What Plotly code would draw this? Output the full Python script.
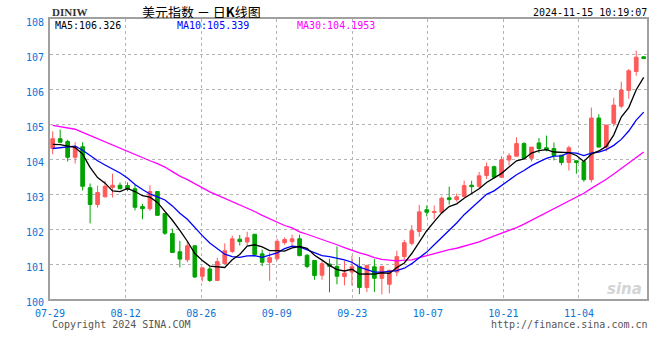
import plotly.graph_objects as go

# ---------------- data ----------------
opens = [104.30, 104.58, 104.50, 104.05, 104.35, 103.18, 102.70, 102.92, 103.19, 103.25,
         103.24, 103.15, 102.64, 102.58, 103.07, 102.44, 101.87, 101.35, 101.12, 101.52,
         100.65, 100.86, 100.53, 101.01, 101.36, 101.71, 101.63, 101.85, 101.29, 101.05,
         101.15, 101.61, 101.64, 101.72, 101.25, 101.10, 100.68, 101.00, 100.93, 100.64,
         100.77, 100.93, 100.33, 100.92, 100.59, 100.42, 100.77, 101.21, 101.59, 101.93,
         102.55, 102.47, 102.48, 102.89, 102.84, 102.93, 103.25, 103.22, 103.53, 103.78,
         103.48, 103.97, 104.08, 104.44, 104.02, 104.46, 104.32, 104.30, 104.11, 103.90,
         103.95, 103.92, 103.41, 105.17, 104.34, 105.02, 105.51, 105.96, 106.50, 106.92]
highs = [104.79, 104.84, 104.55, 104.48, 104.48, 103.30, 103.24, 103.38, 103.58, 103.33,
         103.33, 103.26, 102.72, 103.25, 103.08, 102.45, 102.01, 101.66, 101.64, 101.53,
         100.90, 100.93, 101.18, 101.59, 101.81, 101.83, 101.92, 101.86, 101.41, 101.33,
         101.72, 101.76, 101.84, 101.84, 101.28, 101.10, 101.10, 101.15, 101.50, 101.09,
         101.24, 101.20, 100.98, 101.14, 100.95, 100.82, 101.38, 101.69, 102.11, 102.69,
         102.67, 102.67, 102.93, 103.21, 103.01, 103.38, 103.38, 103.63, 103.90, 103.81,
         104.08, 104.17, 104.62, 104.48, 104.34, 104.60, 104.67, 104.47, 104.11, 104.38,
         103.95, 103.92, 105.47, 105.28, 104.97, 105.75, 106.21, 106.57, 107.10, 106.93]
lows = [104.14, 104.45, 103.93, 103.87, 103.10, 102.16, 102.61, 102.90, 102.90, 103.14,
        103.08, 102.53, 102.28, 102.52, 102.39, 101.83, 101.33, 100.90, 101.05, 100.60,
        100.50, 100.49, 100.51, 101.00, 101.31, 101.53, 101.53, 101.21, 100.94, 100.52,
        101.10, 101.55, 101.50, 101.22, 100.88, 100.55, 100.55, 100.19, 100.42, 100.39,
        100.39, 100.14, 100.20, 100.20, 100.13, 100.16, 100.65, 101.14, 101.53, 101.78,
        102.36, 102.28, 102.44, 102.70, 102.78, 102.90, 103.00, 103.17, 103.43, 103.44,
        103.46, 103.82, 104.08, 104.01, 103.93, 104.17, 104.22, 103.96, 103.82, 103.67,
        103.58, 103.35, 103.33, 104.34, 104.22, 104.93, 105.45, 105.72, 106.38, 106.86]
closes = [104.58, 104.48, 104.05, 104.35, 103.22, 102.70, 103.04, 103.22, 103.25, 103.15,
          103.13, 102.62, 102.58, 103.07, 102.39, 101.88, 101.33, 101.14, 101.52, 100.63,
          100.89, 100.53, 101.07, 101.38, 101.72, 101.64, 101.75, 101.27, 101.05, 101.18,
          101.65, 101.70, 101.72, 101.24, 100.93, 100.67, 101.01, 100.93, 100.65, 100.74,
          100.92, 100.33, 100.96, 100.59, 100.93, 100.82, 101.21, 101.61, 101.95, 102.49,
          102.48, 102.50, 102.88, 102.84, 102.92, 103.24, 103.21, 103.52, 103.78, 103.48,
          103.98, 104.09, 104.44, 104.02, 104.34, 104.30, 104.26, 104.10, 103.90, 104.32,
          103.90, 103.41, 105.17, 104.34, 104.97, 105.54, 105.97, 106.52, 106.91, 106.87]

ma5 = [104.42, 104.41, 104.37, 104.33, 104.14, 103.76, 103.47, 103.31, 103.09, 103.07,
       103.16, 103.07, 102.95, 102.91, 102.76, 102.51, 102.25, 101.96, 101.65, 101.30,
       101.10, 100.94, 100.93, 100.90, 101.12, 101.27, 101.51, 101.55, 101.49, 101.38,
       101.38, 101.37, 101.46, 101.50, 101.45, 101.25, 101.11, 100.96, 100.84, 100.80,
       100.85, 100.71, 100.72, 100.71, 100.75, 100.73, 100.90, 101.03, 101.30, 101.62,
       101.95, 102.21, 102.46, 102.64, 102.72, 102.88, 103.02, 103.15, 103.33, 103.45,
       103.59, 103.77, 103.95, 104.00, 104.17, 104.24, 104.27, 104.20, 104.18, 104.18,
       104.10, 103.93, 104.14, 104.23, 104.36, 104.69, 105.20, 105.47, 105.98, 106.33]
ma10 = [104.30, 104.32, 104.35, 104.37, 104.25, 104.09, 103.95, 103.83, 103.72, 103.60,
        103.46, 103.27, 103.13, 103.00, 102.92, 102.83, 102.66, 102.45, 102.28, 102.03,
        101.81, 101.60, 101.45, 101.28, 101.21, 101.19, 101.23, 101.24, 101.19, 101.25,
        101.32, 101.44, 101.51, 101.49, 101.41, 101.32, 101.24, 101.21, 101.17, 101.12,
        101.05, 100.91, 100.84, 100.77, 100.77, 100.79, 100.81, 100.88, 101.01, 101.18,
        101.34, 101.55, 101.75, 101.97, 102.17, 102.41, 102.61, 102.80, 102.99, 103.09,
        103.24, 103.39, 103.55, 103.67, 103.81, 103.92, 104.02, 104.08, 104.09, 104.18,
        104.17, 104.10, 104.17, 104.20, 104.27, 104.39, 104.56, 104.80, 105.11, 105.34]
ma30 = [104.96, 104.93, 104.89, 104.85, 104.76, 104.67, 104.58, 104.49, 104.40, 104.31,
        104.21, 104.11, 104.02, 103.95, 103.87, 103.77, 103.64, 103.51, 103.41, 103.29,
        103.18, 103.06, 102.97, 102.88, 102.79, 102.70, 102.61, 102.50, 102.39, 102.29,
        102.20, 102.10, 102.03, 101.92, 101.85, 101.78, 101.71, 101.63, 101.55, 101.47,
        101.39, 101.32, 101.26, 101.18, 101.13, 101.10, 101.09, 101.11, 101.12, 101.18,
        101.24, 101.30, 101.36, 101.41, 101.45, 101.51, 101.55, 101.63, 101.72, 101.80,
        101.87, 101.95, 102.04, 102.14, 102.25, 102.37, 102.48, 102.59, 102.69, 102.81,
        102.91, 103.02, 103.16, 103.28, 103.42, 103.57, 103.73, 103.90, 104.06, 104.20]

x_tick_labels = ["07-29", "08-12", "08-26", "09-09", "09-23", "10-07", "10-21", "11-04"]
x_tick_index = [0, 10, 20, 30, 40, 50, 60, 70]
y_ticks = [100, 101, 102, 103, 104, 105, 106, 107, 108]

ma5_last = "106.326"
ma10_last = "105.339"
ma30_last = "104.1953"

# ---------------- figure ----------------
RED = "#ff5a5a"
GREEN = "#00a300"
TICK_BLUE = "#0a74d6"
MONO = "DejaVu Sans Mono, Liberation Mono, monospace"

idx = list(range(len(closes)))

fig = go.Figure()
fig.add_trace(go.Candlestick(
    x=idx, open=opens, high=highs, low=lows, close=closes,
    increasing=dict(line=dict(color=RED, width=1), fillcolor=RED),
    decreasing=dict(line=dict(color=GREEN, width=1), fillcolor=GREEN),
    whiskerwidth=0, showlegend=False, hoverinfo="skip",
))
fig.add_trace(go.Scatter(x=idx, y=ma30, mode="lines", line=dict(color="#ff00ff", width=1.3),
                         showlegend=False, hoverinfo="skip"))
fig.add_trace(go.Scatter(x=idx, y=ma10, mode="lines", line=dict(color="#0000ff", width=1.3),
                         showlegend=False, hoverinfo="skip"))
fig.add_trace(go.Scatter(x=idx, y=ma5, mode="lines", line=dict(color="#000000", width=1.3),
                         showlegend=False, hoverinfo="skip"))

tickvals = [-0.35 + i * 1.0099 for i in x_tick_index]

fig.update_layout(
    width=660, height=360,
    margin=dict(l=50, r=11, t=19, b=61),
    paper_bgcolor="white", plot_bgcolor="white",
    showlegend=False,
    xaxis=dict(
        range=[-0.36, 79.44], rangeslider=dict(visible=False),
        tickmode="array", tickvals=tickvals, ticktext=x_tick_labels,
        tickfont=dict(family=MONO, size=10, color=TICK_BLUE),
        ticklabelstandoff=4,
        showgrid=True, gridcolor="#b4b4b4", griddash="dot", gridwidth=1,
        showline=True, linecolor="#a0a0a0", linewidth=2, mirror=True,
        ticks="", zeroline=False, fixedrange=True,
    ),
    yaxis=dict(
        range=[100, 108],
        tickmode="array", tickvals=y_ticks, ticktext=[str(v) for v in y_ticks],
        tickfont=dict(family=MONO, size=10, color=TICK_BLUE),
        ticklabelshift=3, ticklabelstandoff=2,
        showgrid=True, gridcolor="#b4b4b4", griddash="dot", gridwidth=1,
        showline=True, linecolor="#a0a0a0", linewidth=2, mirror=True,
        ticks="", zeroline=False, fixedrange=True,
    ),
)

def px_x(p):
    return (p - 50) / 599.0

def px_y(p):
    return (299 - p) / 280.0

ann = [
    dict(text="<b>DINIW</b>", x=px_x(50), y=px_y(12), xanchor="left", yanchor="middle",
         font=dict(family="Liberation Serif, DejaVu Serif", size=11, color="#333333")),
    dict(text="美元指数 － 日<b>K</b>线图", x=px_x(202), y=px_y(10.5), xanchor="center", yanchor="middle",
         height=14, font=dict(family="Noto Sans CJK SC", size=13, color="#000000")),
    dict(text="2024-11-15 10:19:07", x=px_x(651), y=px_y(12), xanchor="right", yanchor="middle",
         font=dict(family=MONO, size=10, color="#000000")),
    dict(text="MA5:" + ma5_last, x=px_x(53), y=px_y(25), xanchor="left", yanchor="middle",
         height=12, font=dict(family=MONO, size=10, color="#000000")),
    dict(text="MA10:" + ma10_last, x=px_x(175), y=px_y(25), xanchor="left", yanchor="middle",
         height=12, font=dict(family=MONO, size=10, color="#0000ff")),
    dict(text="MA30:" + ma30_last, x=px_x(296), y=px_y(25), xanchor="left", yanchor="middle",
         height=12, font=dict(family=MONO, size=10, color="#ff00ff")),
    dict(text="Copyright 2024 SINA.COM", x=px_x(50), y=px_y(324), xanchor="left", yanchor="middle",
         font=dict(family=MONO, size=10, color="#555555")),
    dict(text="http://finance.sina.com.cn", x=px_x(652), y=px_y(324), xanchor="right", yanchor="middle",
         font=dict(family=MONO, size=10, color="#555555")),
    dict(text="<i><b>sina</b></i>", x=px_x(646), y=px_y(289), xanchor="right", yanchor="middle",
         font=dict(family="DejaVu Sans", size=15, color="#d4d4d4")),
]
for a in ann:
    a.update(xref="paper", yref="paper", showarrow=False)
fig.update_layout(annotations=ann)

# remove the default 8px page margin so the 660x360 figure fills the window exactly
fig.write_html("out.html",
               config={"displayModeBar": False, "staticPlot": True},
               post_script="document.body.style.margin='0';document.body.style.overflow='hidden';")
